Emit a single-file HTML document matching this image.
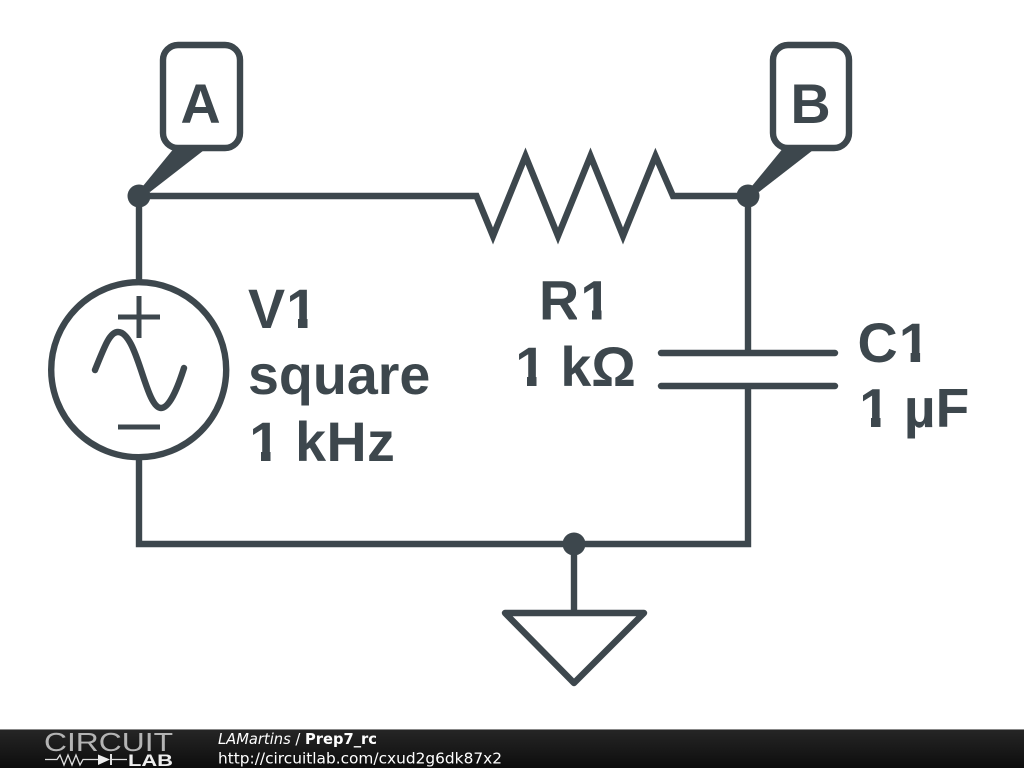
<!DOCTYPE html>
<html>
<head>
<meta charset="utf-8">
<style>
html,body{margin:0;padding:0;background:#fff;width:1024px;height:768px;overflow:hidden}
svg{display:block}
</style>
</head>
<body>
<svg width="1024" height="768" viewBox="0 0 1024 768" xmlns="http://www.w3.org/2000/svg">
<defs>
<linearGradient id="bar" x1="0" y1="0" x2="0" y2="1">
<stop offset="0" stop-color="#262626"/>
<stop offset="1" stop-color="#0d0d0d"/>
</linearGradient>
</defs>
<rect width="1024" height="768" fill="#fff"/>
<g fill="none" stroke="#3d474d" stroke-width="6.400">
<path d="M139 196H476.500L493 236L525.500 156L558 236L590.500 156L623 236L655.500 156L673 196H748V352M748 386V544H139V460M139 280V196" stroke-linejoin="miter"/>
<circle cx="138.700" cy="369.700" r="87.500"/>
<path d="M574 544V612"/>
<path d="M505 613H644L574 683Z" stroke-linejoin="round"/>
<path d="M661 353H835M661 386H835" stroke-linecap="round"/>
<rect x="163" y="45" width="77" height="103" rx="15"/>
<rect x="773" y="45" width="76" height="103" rx="15"/>
<path d="M118 317H160M139 296V338M118 427H160" stroke-width="5"/>
<path d="M95 370C105 345 110 332 118 332C128 332 135 352 141 370C147 388 153 408 161 408C169 408 177 390 184 368" stroke-linecap="round"/>
</g>
<g fill="#3d474d">
<circle cx="139" cy="196" r="11.500"/>
<circle cx="748" cy="196" r="11.500"/>
<circle cx="574" cy="544" r="11.500"/>
<path d="M175 147H208L150 192L143 186Z"/>
<path d="M784 147H817L759 192L752 186Z"/>
</g>
<g fill="#3d474d" font-family="'Liberation Sans',Arial,sans-serif" font-weight="700" font-size="55.600">
<text x="180.500" y="123">A</text>
<text x="790.500" y="123">B</text>
<text x="248" y="328">V<tspan dx="1.200">1</tspan></text>
<text x="248" y="394">square</text>
<text x="248" y="461" letter-spacing="0.400"><tspan dx="1.200">1</tspan><tspan dx="-1.200"> kHz</tspan></text>
<text x="539" y="319.500">R<tspan dx="1.200">1</tspan></text>
<text x="514" y="386"><tspan dx="1.200">1</tspan><tspan dx="-1.200"> kΩ</tspan></text>
<text x="857.500" y="362">C<tspan dx="1.200">1</tspan></text>
<text x="858" y="427" font-size="55"><tspan dx="1.200">1</tspan><tspan dx="-1.200"> µF</tspan></text>
</g>
<!-- remove base foot of the "1" to match the reference numeral -->
<g fill="#fff">
<rect x="283" y="320" width="38" height="10"/>
<rect x="246" y="453" width="38" height="10"/>
<rect x="577" y="311.500" width="38" height="10"/>
<rect x="512" y="378" width="38" height="10"/>
<rect x="895" y="354" width="38" height="10"/>
<rect x="856" y="419" width="38" height="10"/>
</g>
<g fill="#3d474d">
<rect x="298" y="319" width="9.500" height="9"/>
<rect x="261" y="452" width="9.500" height="9"/>
<rect x="592" y="310.500" width="9.500" height="9"/>
<rect x="527" y="377" width="9.500" height="9"/>
<rect x="910.600" y="353" width="9.500" height="9"/>
<rect x="871" y="418" width="9.500" height="9"/>
</g>
<rect y="729" width="1024" height="39" fill="url(#bar)"/>
<rect y="729" width="1024" height="1" fill="#888"/>
<g fill="none" stroke="#e0e0e0" stroke-width="1.300">
<path d="M45 759.500H57L60 755L64 765L68 755L72 765L76 755L80 765L83 759.500H98M111 759.500H127"/>
<path d="M111 754V765" stroke-width="2"/>
</g>
<path d="M98 754.500L110 759.500L98 765Z" fill="#eee"/>
<text x="44" y="751" font-family="'Liberation Sans',sans-serif" font-size="26" fill="#b4b4b4" textLength="129" lengthAdjust="spacingAndGlyphs" font-weight="400">CIRCUIT</text>
<text x="128" y="766" font-family="'Liberation Sans',sans-serif" font-size="16.500" font-weight="700" fill="#eee" textLength="45" lengthAdjust="spacingAndGlyphs">LAB</text>
<text x="218" y="744" font-family="'DejaVu Sans',sans-serif" font-size="15" fill="#fff" textLength="159" lengthAdjust="spacingAndGlyphs"><tspan font-style="italic">LAMartins</tspan> / <tspan font-weight="700">Prep7_rc</tspan></text>
<text x="218" y="763.500" font-family="'DejaVu Sans',sans-serif" font-size="15" fill="#fff" textLength="284" lengthAdjust="spacingAndGlyphs">http://circuitlab.com/cxud2g6dk87x2</text>
</svg>
</body>
</html>
